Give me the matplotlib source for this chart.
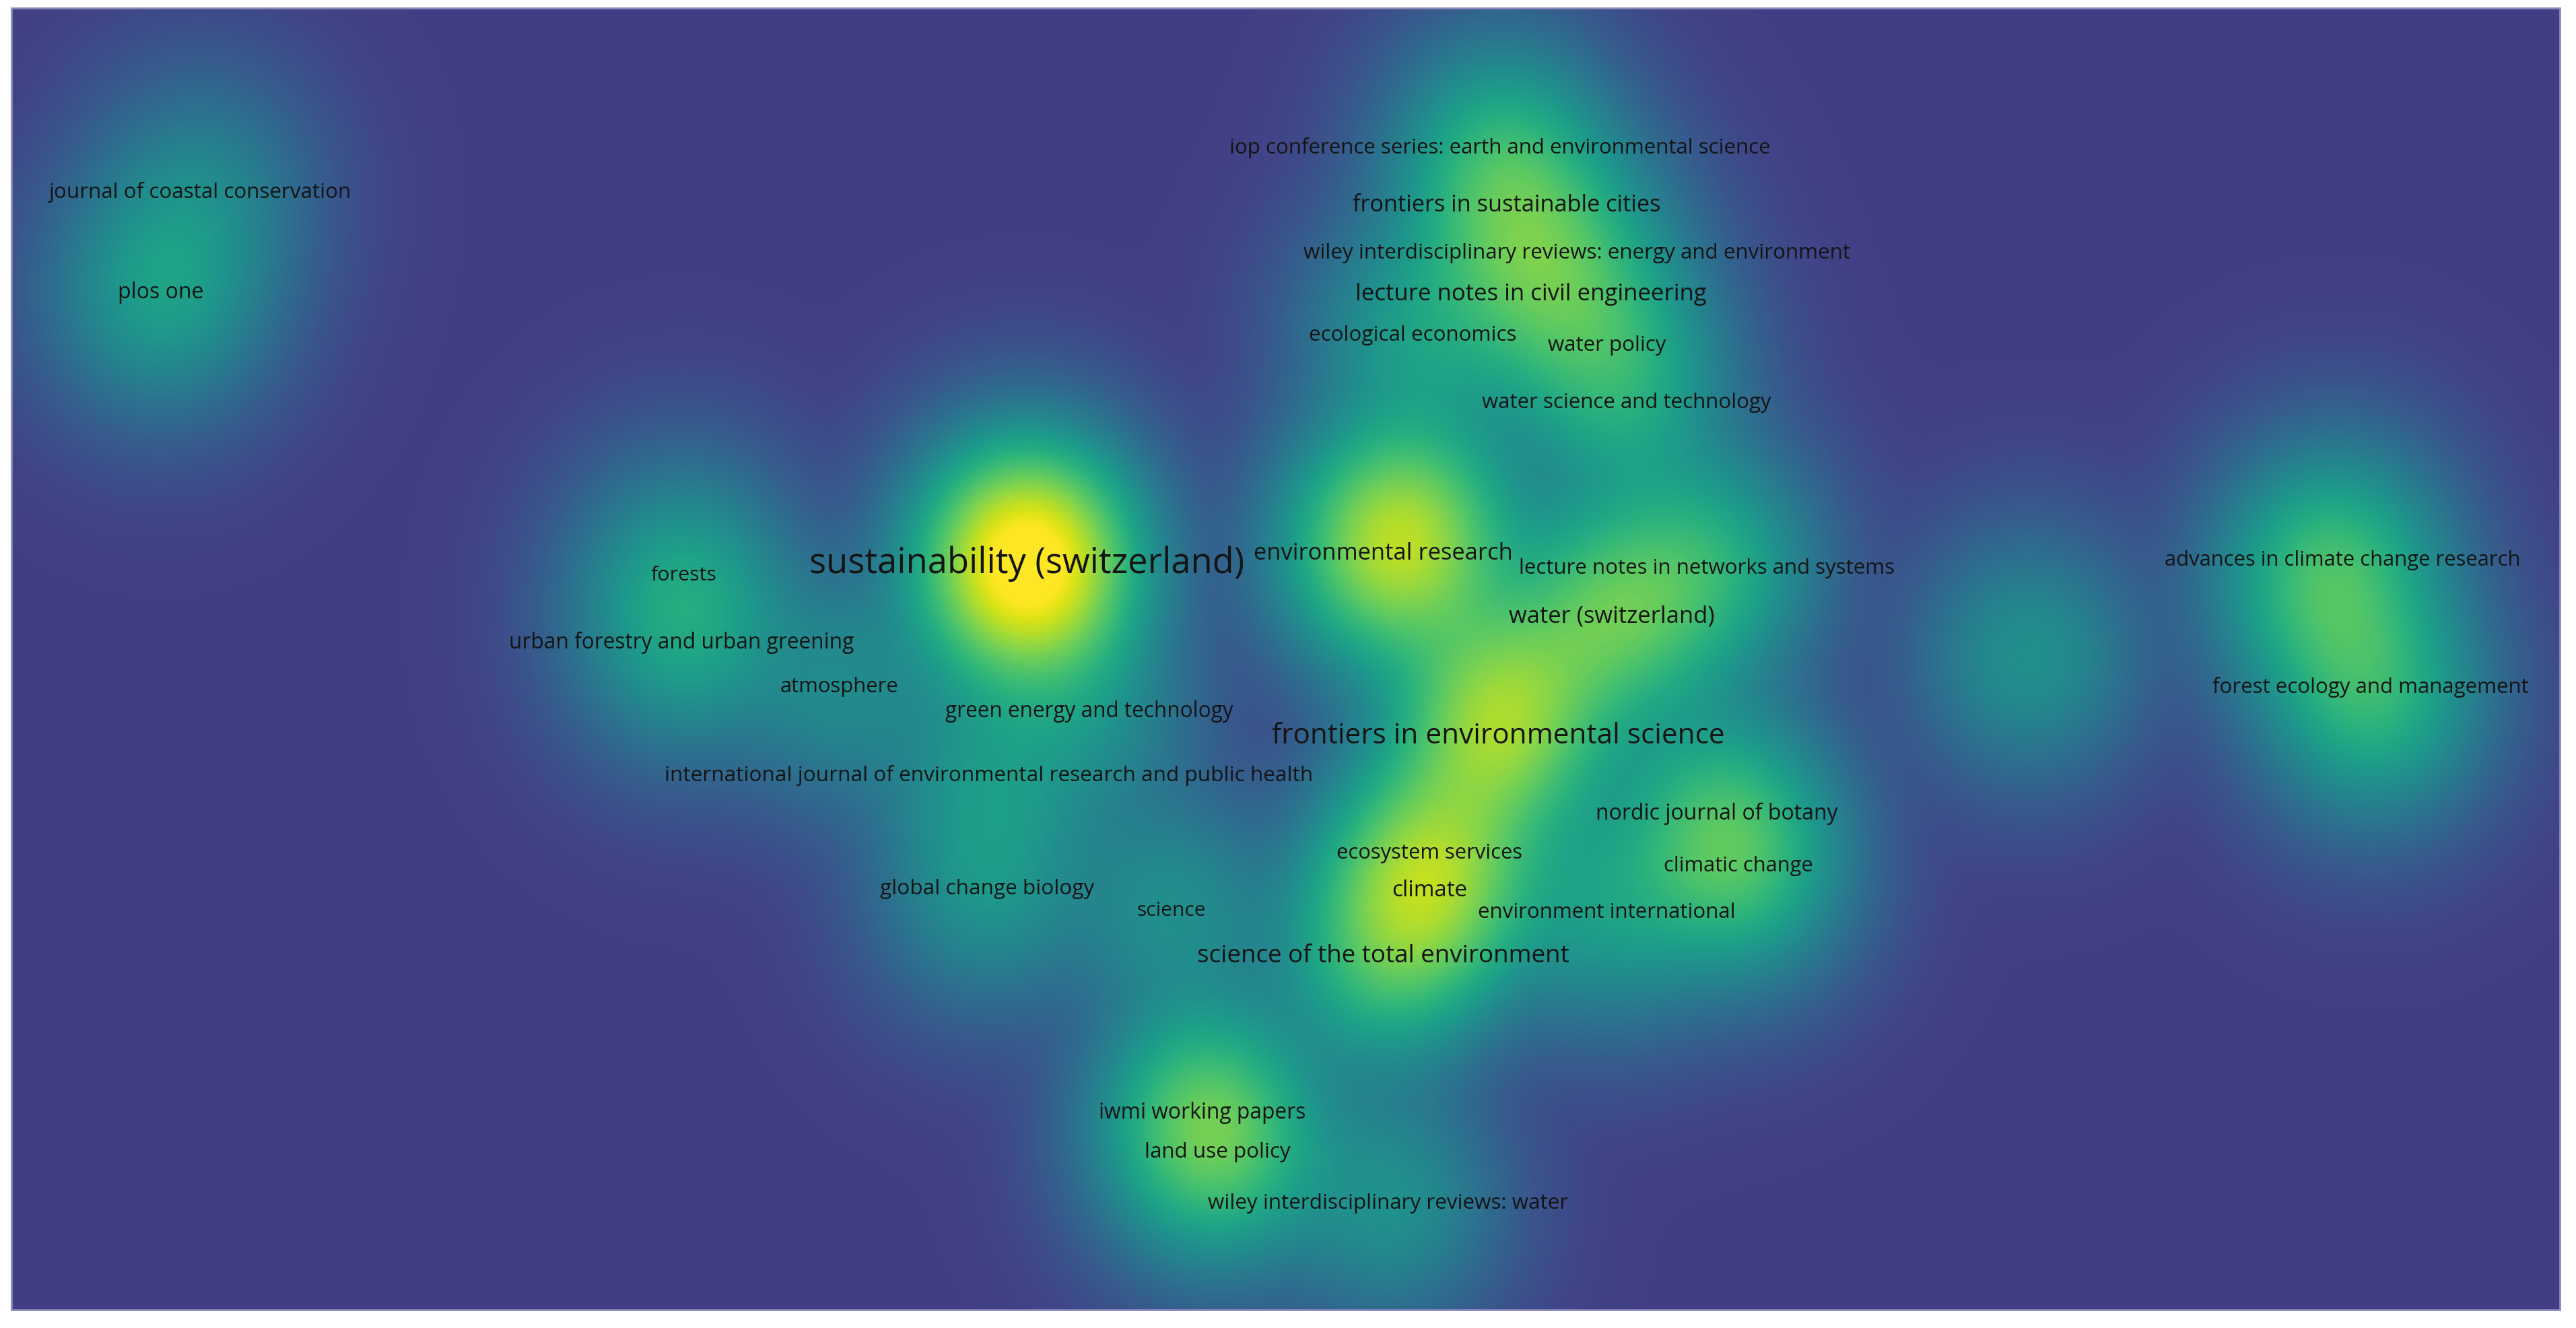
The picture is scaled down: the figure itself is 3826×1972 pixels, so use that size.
import matplotlib
matplotlib.use("Agg")
import matplotlib.pyplot as plt
import numpy as np
from matplotlib.patches import Rectangle
from matplotlib.colors import ListedColormap, PowerNorm

# map coordinates (VOSviewer layout, shown in screen units 0..1568 x 0..808)
labels = [
    "journal of coastal conservation", "plos one",
    "iop conference series: earth and environmental science",
    "frontiers in sustainable cities",
    "wiley interdisciplinary reviews: energy and environment",
    "lecture notes in civil engineering", "ecological economics", "water policy",
    "water science and technology", "sustainability (switzerland)",
    "environmental research", "lecture notes in networks and systems",
    "water (switzerland)", "forests", "urban forestry and urban greening",
    "atmosphere", "green energy and technology",
    "frontiers in environmental science",
    "international journal of environmental research and public health",
    "nordic journal of botany", "ecosystem services", "climatic change", "climate",
    "environment international", "global change biology", "science",
    "science of the total environment", "iwmi working papers", "land use policy",
    "wiley interdisciplinary reviews: water",
    "advances in climate change research", "forest ecology and management",
    # items whose labels are hidden in the map
    "", "", "", "", "",
]
item_x = [122, 98, 913, 917, 960, 932, 860, 978, 990, 625, 842, 1039, 981, 416, 415,
          511, 663, 912, 602, 1045, 870, 1058, 870, 978, 601, 713, 842, 732, 741, 845,
          1426, 1443, 1235, 1409, 1446, 862, 916]
item_y = [117, 178, 90, 125, 154, 179, 204, 210, 245, 343, 337, 346, 375, 350, 391,
          418, 433, 448, 472, 495, 519, 527, 542, 555, 541, 554, 582, 677, 701, 732,
          341, 418, 400, 358, 430, 322, 425]
item_weight = [0.10, 0.20, 0.19, 0.24, 0.16, 0.21, 0.18, 0.18, 0.16, 1.15, 0.42, 0.28,
               0.42, 0.16, 0.16, 0.12, 0.12, 0.38, 0.14, 0.22, 0.28, 0.30, 0.38, 0.18,
               0.15, 0.14, 0.30, 0.29, 0.29, 0.15, 0.21, 0.17, 0.15, 0.20, 0.15, 0.38,
               0.30]

# label widths on screen (style: sets font size of each label)
label_width = [184, 52, 330, 189, 333, 214, 126, 72, 176, 266, 157, 229, 125, 40, 210,
               72, 175, 275, 393, 147, 113, 91, 46, 157, 130, 42, 227, 126, 89, 219,
               217, 193, 0, 0, 0, 0, 0]

W, H = 1568, 808
x0, x1, y0, y1 = 7, 1558, 5, 797
sx, sy = 38.0, 42.0

fig = plt.figure(figsize=(38.26, 19.72), dpi=100)
ax = fig.add_axes([0, 0, 1, 1])
ax.set_xlim(0, W)
ax.set_ylim(H, 0)
ax.axis("off")

gx = np.linspace(x0, x1, 1400)
gy = np.linspace(y0, y1, 720)
X, Y = np.meshgrid(gx, gy)
D = np.zeros_like(X)
for x, y, w in zip(item_x, item_y, item_weight):
    D += w * np.exp(-((X - x) ** 2 / (2 * sx ** 2) + (Y - y) ** 2 / (2 * sy ** 2)))
D = np.clip(D, 0, 1)

base = plt.get_cmap("viridis")
cmap = ListedColormap(base(np.linspace(0.185, 1.0, 256)))
ax.imshow(D, cmap=cmap, norm=PowerNorm(gamma=0.5, vmin=0, vmax=1),
          extent=(x0, x1, y1, y0), interpolation="bilinear", aspect="auto", zorder=1)
ax.add_patch(Rectangle((x0, y0), x1 - x0, y1 - y0, fill=False,
                       edgecolor="#8a88b8", lw=2, zorder=3))

scale = 3826 / W
renderer = fig.canvas.get_renderer()
for lab, x, y, wpx in zip(labels, item_x, item_y, label_width):
    if not lab:
        continue
    t = ax.text(x, y, lab, ha="center", va="center", fontsize=10,
                family="Open Sans", color="#141414", zorder=4)
    bw = t.get_window_extent(renderer=renderer).width
    t.set_fontsize(10 * wpx * scale / bw)

fig.savefig("out.png", dpi=100, facecolor="white")
